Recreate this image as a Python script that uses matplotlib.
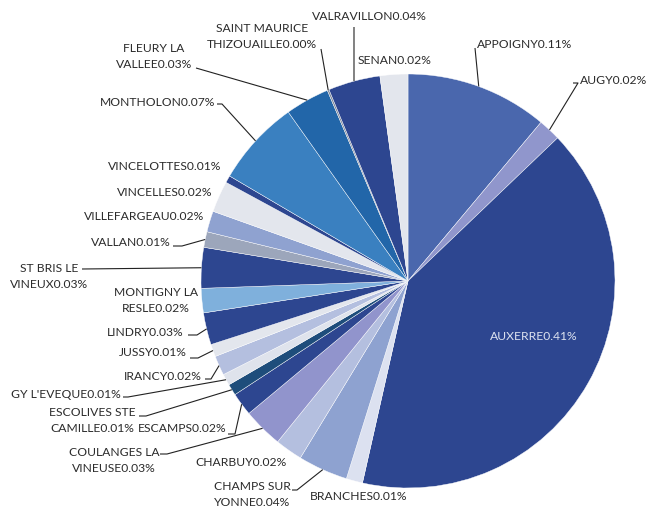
import matplotlib
matplotlib.use("Agg")
import matplotlib.pyplot as plt
import numpy as np

# ---- data (clockwise from 12 o'clock) ----
names = ["APPOIGNY", "AUGY", "AUXERRE", "BRANCHES", "CHAMPS SUR\nYONNE", "CHARBUY",
         "COULANGES LA\nVINEUSE", "ESCAMPS", "ESCOLIVES STE\nCAMILLE", "GY L'EVEQUE",
         "IRANCY", "JUSSY", "LINDRY", "MONTIGNY LA\nRESLE", "ST BRIS LE\nVINEUX", "VALLAN",
         "VILLEFARGEAU", "VINCELLES", "VINCELOTTES", "MONTHOLON", "FLEURY LA\nVALLEE",
         "SAINT MAURICE\nTHIZOUAILLE", "VALRAVILLON", "SENAN"]
shares = [0.111, 0.0175, 0.4067, 0.0128, 0.0389, 0.0214, 0.0311, 0.018, 0.0089, 0.0089,
          0.0153, 0.0097, 0.025, 0.019, 0.0317, 0.0122, 0.0164, 0.0244, 0.0056, 0.0672,
          0.0344, 0.0014, 0.0406, 0.0217]
pct_labels = [0.11, 0.02, 0.41, 0.01, 0.04, 0.02, 0.03, 0.02, 0.01, 0.01, 0.02, 0.01,
              0.03, 0.02, 0.03, 0.01, 0.02, 0.02, 0.01, 0.07, 0.03, 0.00, 0.04, 0.02]

# ---- styles ----
colors = ["#4a67ad", "#9096cc", "#2d4690", "#dce1f0", "#8ea2d0", "#b4bfdf",
          "#9194cc", "#2d4690", "#1e4d7b", "#dfe3ec", "#b4bfdf", "#e3e6ed",
          "#2d4690", "#7fb0dc", "#2d4690", "#9ca6bb", "#8fa2d0", "#e3e6ed",
          "#2d4690", "#3a80c0", "#2266a9", "#7f8a9c", "#2d4690", "#e3e6ed"]

# label layout in pixel space: (x, y of first line, ha, leader points after edge)
layout = [
    (477, 44, "left", [(475, 48)]),
    (580, 80, "left", [(578, 83), (573, 83)]),
    (534, 337, "center", None),
    (359, 497, "center", None),
    (252, 486, "center", [(297, 490), (292, 490)]),
    (241, 463, "center", None),
    (114, 452, "center", [(167, 454), (160, 454)]),
    (138, 429, "left", [(235, 434), (228, 434)]),
    (92, 413, "center", [(146, 416), (139, 416)]),
    (121, 395, "right", [(128, 397), (123, 397)]),
    (202, 376, "right", [(211, 379), (205, 379)]),
    (187, 353, "right", [(198, 358), (190, 358)]),
    (184, 332, "right", [(197, 335), (188, 335)]),
    (156, 293, "center", None),
    (49, 268, "center", [(82, 269)]),
    (171, 242, "right", [(182, 246), (173, 246)]),
    (204, 217, "right", None),
    (212, 192, "right", None),
    (221, 167, "right", None),
    (215, 102, "right", [(222, 104), (217, 104)]),
    (154, 48, "center", [(196, 68)]),
    (262, 28, "center", [(321, 49)]),
    (312, 17, "left", [(354, 27)]),
    (358, 61, "left", None),
]

W, H = 646, 507
cx, cy, R = 408, 281, 207
FONT = "Lato"
FS = 8.7
LINE = 16
TXT = "#2b2b2b"

fig = plt.figure(figsize=(W / 100, H / 100), dpi=100)
ax = fig.add_axes([0, 0, 1, 1])
wedges, _ = ax.pie(shares, colors=colors, startangle=-90, counterclock=True,
                   center=(cx, cy), radius=R,
                   wedgeprops=dict(edgecolor="white", linewidth=0.3))
ax.set_xlim(0, W)
ax.set_ylim(H, 0)
ax.set_aspect("equal")
ax.axis("off")

for w, name, pct, (tx, ty, ha, pts) in zip(wedges, names, pct_labels, layout):
    label = f"{name}{pct:.2f}%"
    lines = label.split("\n")
    col = "#dde3f0" if name == "AUXERRE" else TXT
    for i, ln in enumerate(lines):
        ax.text(tx, ty + i * LINE, ln, ha=ha, va="center", fontsize=FS,
                family=FONT, color=col)
    if pts:
        th = np.deg2rad((w.theta1 + w.theta2) / 2)
        ex, ey = cx + R * np.cos(th), cy + R * np.sin(th)
        xs = [ex] + [p[0] for p in pts]
        ys = [ey] + [p[1] for p in pts]
        ax.plot(xs, ys, color="#222222", lw=0.8, solid_capstyle="butt")

fig.savefig("out.png", dpi=100)
